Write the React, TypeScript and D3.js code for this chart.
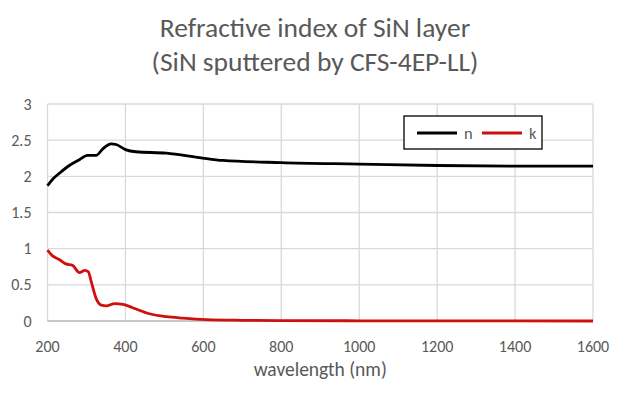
import React, { FC, useMemo } from 'react'
import * as d3 from 'd3'

const nWavelength = [200, 215, 230, 256, 282, 303, 325, 342, 363, 376, 400, 427, 505, 590, 650, 800, 1000, 1200, 1400, 1600]
const nValues = [1.87, 1.97, 2.04, 2.15, 2.23, 2.29, 2.29, 2.38, 2.45, 2.44, 2.37, 2.34, 2.32, 2.26, 2.22, 2.19, 2.17, 2.15, 2.14, 2.14]

const kWavelength = [200, 213, 230, 247, 264, 282, 296, 305, 311, 325, 338, 351, 372, 394, 420, 462, 505, 548, 608, 700, 800, 1000, 1600]
const kValues = [0.98, 0.9, 0.85, 0.79, 0.77, 0.67, 0.7, 0.68, 0.57, 0.31, 0.22, 0.21, 0.24, 0.23, 0.18, 0.1, 0.06, 0.04, 0.02, 0.01, 0.005, 0.003, 0]

const xTicks = [200, 400, 600, 800, 1000, 1200, 1400, 1600]
const yTicks = [0, 0.5, 1, 1.5, 2, 2.5, 3]

const series = [
	{ name: 'n', color: '#000000', x: nWavelength, y: nValues },
	{ name: 'k', color: '#d00f0f', x: kWavelength, y: kValues }
]

const W = 630
const H = 398
const margin = { left: 47.5, right: 37, top: 104, bottom: 77 }
const font = "Carlito, Lato, 'Open Sans', sans-serif"
const textColor = '#595959'

const App: FC = () => {
	const x = useMemo(
		() => d3.scaleLinear().domain([200, 1600]).range([margin.left, W - margin.right]),
		[]
	)
	const y = useMemo(
		() => d3.scaleLinear().domain([0, 3]).range([H - margin.bottom, margin.top]),
		[]
	)

	const line = d3
		.line<[number, number]>()
		.x(d => x(d[0]))
		.y(d => y(d[1]))
		.curve(d3.curveMonotoneX)

	return (
		<div style={{ position: 'absolute', left: 0, top: 0 }}>
			<svg width={W} height={H} style={{ display: 'block', background: '#fff' }}>
				{/* grid */}
				<g>
					{yTicks.map(t => (
						<line key={'h' + t} x1={x(200)} x2={x(1600)} y1={y(t)} y2={y(t)} stroke="#d9d9d9" strokeWidth={1.3} />
					))}
					{xTicks.map(t => (
						<line key={'v' + t} x1={x(t)} x2={x(t)} y1={y(0)} y2={y(3)} stroke="#d9d9d9" strokeWidth={1.3} />
					))}
					<line x1={x(200)} x2={x(1600)} y1={y(0)} y2={y(0)} stroke="#bfbfbf" strokeWidth={1.3} />
				</g>

				{/* tick labels */}
				<g fontFamily={font} fontSize={16} fill={textColor}>
					{yTicks.map(t => (
						<text key={'yl' + t} x={31.5} y={y(t)} dy="0.35em" textAnchor="end">
							{t}
						</text>
					))}
					{xTicks.map(t => (
						<text key={'xl' + t} x={x(t)} y={y(0) + 25} dy="0.35em" textAnchor="middle">
							{t}
						</text>
					))}
					<text x={(x(200) + x(1600)) / 2} y={376} textAnchor="middle" fontSize={19.5}>
						wavelength (nm)
					</text>
				</g>

				{/* title */}
				<g fontFamily={font} fontSize={27.5} fill={textColor} textAnchor="middle">
					<text x={315} y={37}>Refractive index of SiN layer</text>
					<text x={315} y={71}>(SiN sputtered by CFS-4EP-LL)</text>
				</g>

				{/* curves */}
				{series.map(s => (
					<path
						key={s.name}
						d={line(s.x.map((v, i) => [v, s.y[i]] as [number, number])) || ''}
						fill="none"
						stroke={s.color}
						strokeWidth={2.8}
						strokeLinejoin="round"
					/>
				))}

				{/* legend */}
				<g>
					<rect x={404} y={116} width={138} height={33} fill="#fff" stroke="#000" strokeWidth={1.3} />
					{series.map((s, i) => (
						<g key={s.name} transform={`translate(${417 + i * 65}, 133)`}>
							<line x1={0} x2={40} y1={0} y2={0} stroke={s.color} strokeWidth={2.8} />
							<text x={47} y={0} dy="0.35em" fontFamily={font} fontSize={16.5} fill={textColor}>
								{s.name}
							</text>
						</g>
					))}
				</g>
			</svg>
		</div>
	)
}

export default App
